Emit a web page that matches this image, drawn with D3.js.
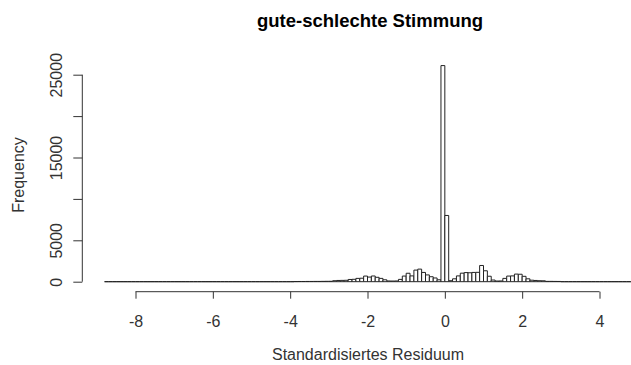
<!DOCTYPE html>
<html>
<head>
<meta charset="utf-8">
<script src="https://cdn.jsdelivr.net/npm/d3@7"></script>
<style>
  body { margin: 0; background: #fff; }
  text { font-family: "Liberation Sans", Arial, sans-serif; }
</style>
</head>
<body>
<svg id="chart"></svg>
<script>
// histogram of standardised residuals, bins of width 0.1 starting at -8.8
var breakStart = -8.8,
    breakWidth = 0.1;

var counts = [
    0, 0, 0, 0, 0, 0, 0, 0, 0, 0,        // -8.8 .. -7.9
    0, 0, 0, 0, 0, 0, 0, 0, 0, 0,        // -7.8 .. -6.9
    0, 0, 0, 0, 0, 0, 0, 0, 0, 0,        // -6.8 .. -5.9
    0, 0, 0, 0, 0, 0, 0, 0, 0, 0,        // -5.8 .. -4.9
    0, 0, 0, 0, 0, 0, 0, 0, 0,           // -4.8 .. -4.0
    20, 25, 25, 30, 30, 35, 35, 40, 45, 50,            // -3.9 .. -3.0
    120, 150, 160, 170, 270, 290, 400, 420, 680, 560,   // -2.9 .. -2.0
    690, 530, 400, 230, 90, 80, 90, 280, 680, 1020,     // -1.9 .. -1.0
    700, 1400, 1520, 1120, 820, 600, 450, 230,          // -0.9 .. -0.2
    26100, 8000,                                        // -0.1, 0.0
    120, 350, 700, 1030, 1100, 1080, 1120, 1130,        // 0.1 .. 0.8
    1960, 1320, 660, 200, 80, 90, 400, 680, 700, 920,   // 0.9 .. 1.8
    900, 650, 350, 180, 150, 120, 110, 40, 40, 35,      // 1.9 .. 2.8
    30, 0, 0, 0, 0, 0, 0, 0, 0, 0,                      // 2.9 .. 3.8
    0, 0, 0, 0, 0, 0, 0, 0, 0, 0, 0                     // 3.9 .. 4.9
];

var xTicks = [-8, -6, -4, -2, 0, 2, 4];
var yTicks = [0, 5000, 10000, 15000, 20000, 25000];
var yTickLabels = ["0", "5000", "", "15000", "", "25000"];

var titleText = "gute-schlechte Stimmung",
    xTitle = "Standardisiertes Residuum",
    yTitle = "Frequency";

var w = 631,
    h = 365;

var svg = d3.select("#chart")
    .attr("width", w)
    .attr("height", h);

var x = d3.scaleLinear().domain([-8, 4]).range([135.5, 599.5]);
var y = d3.scaleLinear().domain([0, 25000]).range([281.7, 74.7]);

var bins = counts.map(function(c, i) {
    var x0 = breakStart + i * breakWidth;
    return { x0: x0, x1: x0 + breakWidth, count: c };
});

// bars drawn as closed paths so empty bins still show as a baseline
svg.append("g")
    .selectAll("path.bar")
    .data(bins)
    .enter().append("path")
    .attr("class", "bar")
    .attr("d", function(d) {
        var p = d3.path();
        p.moveTo(x(d.x0), y(0));
        p.lineTo(x(d.x0), y(d.count));
        p.lineTo(x(d.x1), y(d.count));
        p.lineTo(x(d.x1), y(0));
        p.closePath();
        return p.toString();
    })
    .attr("fill", "#fff")
    .attr("stroke", "#222")
    .attr("stroke-width", 1);

// x axis
var xAxis = svg.append("g")
    .attr("transform", "translate(0,291.7)")
    .call(d3.axisBottom(x).tickValues(xTicks).tickSize(7).tickPadding(17)
        .tickFormat(function(d) { return d < 0 ? "-" + Math.abs(d) : d; }));
xAxis.select(".domain").attr("d", "M" + x(xTicks[0]) + ",0H" + x(xTicks[xTicks.length - 1]))
    .attr("stroke", "#333");
xAxis.selectAll(".tick line").attr("stroke", "#333");
xAxis.selectAll(".tick text")
    .attr("font-size", 16)
    .attr("fill", "#333")
    .attr("font-family", "Liberation Sans, Arial, sans-serif");

// y axis
var yAxis = svg.append("g")
    .attr("transform", "translate(82.3,0)")
    .call(d3.axisLeft(y).tickValues(yTicks).tickSize(9)
        .tickFormat(function(d, i) { return yTickLabels[i]; }));
yAxis.select(".domain").attr("d", "M0," + y(0) + "V" + y(25000)).attr("stroke", "#333");
yAxis.selectAll(".tick line").attr("stroke", "#333");
yAxis.selectAll(".tick text")
    .attr("font-size", 16)
    .attr("fill", "#333")
    .attr("font-family", "Liberation Sans, Arial, sans-serif")
    .attr("text-anchor", "middle")
    .attr("dy", null)
    .attr("x", null)
    .attr("transform", "translate(-20.3,0) rotate(-90)");

// titles
svg.append("text")
    .attr("x", 370)
    .attr("y", 27)
    .attr("text-anchor", "middle")
    .attr("font-size", 18.5)
    .attr("font-weight", "bold")
    .attr("fill", "#000")
    .text(titleText);

svg.append("text")
    .attr("x", 368)
    .attr("y", 360)
    .attr("text-anchor", "middle")
    .attr("font-size", 16)
    .attr("fill", "#333")
    .text(xTitle);

svg.append("text")
    .attr("transform", "translate(24,175) rotate(-90)")
    .attr("text-anchor", "middle")
    .attr("font-size", 16)
    .attr("fill", "#333")
    .text(yTitle);
</script>
</body>
</html>
